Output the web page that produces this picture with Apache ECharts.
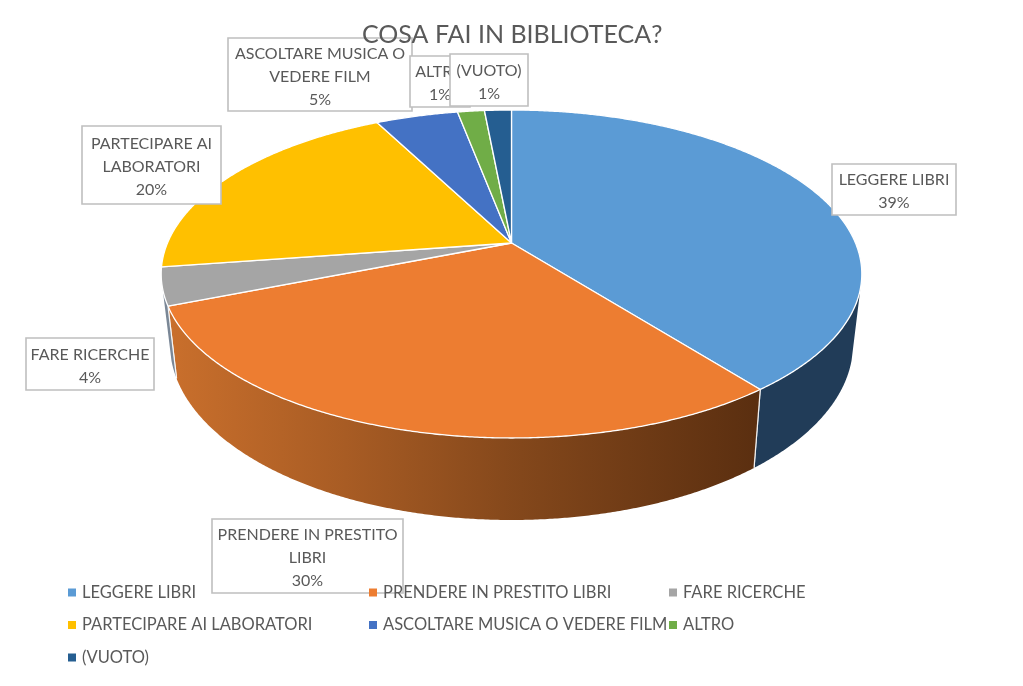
<!DOCTYPE html>
<html><head><meta charset="utf-8">
<style>html,body{margin:0;padding:0;background:#fff}#c{width:1023px;height:686px}</style>
<script src="https://cdn.jsdelivr.net/npm/echarts@6/dist/echarts.min.js"></script></head>
<body><div id="c"></div>
<script>
const titleText = 'COSA FAI IN BIBLIOTECA?';
const categories = ['LEGGERE LIBRI','PRENDERE IN PRESTITO LIBRI','FARE RICERCHE','PARTECIPARE AI LABORATORI','ASCOLTARE MUSICA O VEDERE FILM','ALTRO','(VUOTO)'];
const values = [39.45,29.5,3.7,19.8,4.57,1.49,1.49];
const labelLines = ['LEGGERE LIBRI','PRENDERE IN PRESTITO\nLIBRI','FARE RICERCHE','PARTECIPARE AI\nLABORATORI','ASCOLTARE MUSICA O\nVEDERE FILM','ALTRO','(VUOTO)'];
const colors = ['#5b9bd5','#ed7d31','#a5a5a5','#ffc000','#4472c4','#70ad47','#255e91'];

// layout only
const wallColors = ['#213c58',null,'#7a8796','#997300','#294576','#43682b','#163856'];
const labelBoxes = [[832,164,124,51],[212,519,191,74],[26,338,128,52],[82,126,139,78],[228,38,184,73],[410,56,60,51],[450,54,78,52]];
const legendCols = [{left:68,names:[0,3,6]},{left:369,names:[1,4]},{left:669,names:[2,5]}];

const total = values.reduce((a,b)=>a+b,0);
const starts = []; values.reduce((a,v,i)=>{starts[i]=a;return a+v;},0);
const CX=511.5,AY=243,P=112.2,B=-0.189,K=344;
function rimTop(t){ // perspective projection of a disk point at angle t (clockwise from 12 o'clock)
  const x=Math.sin(t),y=-Math.cos(t),d=1+B*y;
  return [CX+K*x/d,(P*y+AY)/d];
}
function rimLow(p){return [CX+(p[0]-CX)*0.975,p[1]+70+12*(p[1]-274)/164];}
const VIS0=106*Math.PI/180,VIS1=254*Math.PI/180;
function arc(a,b){const n=Math.max(2,Math.ceil((b-a)/0.006));const r=[];for(let i=0;i<=n;i++)r.push(a+(b-a)*i/n);return r;}
function sliceRender(i){
  return function(){
    const a=starts[i]/total*2*Math.PI,b=(starts[i]+values[i])/total*2*Math.PI;
    const kids=[];
    const va=Math.max(a,VIS0),vb=Math.min(b,VIS1);
    if(vb>va){
      const ts=arc(va,vb),up=ts.map(rimTop),dn=up.map(rimLow).reverse();
      const fill=wallColors[i]||{type:'linear',x:170,y:0,x2:755,y2:0,global:true,colorStops:[
        {offset:0,color:'#c96f2c'},{offset:.3,color:'#a85c24'},{offset:.6,color:'#83471b'},{offset:1,color:'#5b2f10'}]};
      kids.push({type:'polygon',shape:{points:up.concat(dn)},style:{fill:fill}});
      [a,b].forEach(t=>{ if(t>=VIS0&&t<=VIS1){const p=rimTop(t),q=rimLow(p);
        kids.push({type:'line',shape:{x1:p[0],y1:p[1],x2:q[0],y2:q[1]},style:{stroke:'#fff',lineWidth:1.2,opacity:.85}});}});
    }
    const pts=[[CX,AY]].concat(arc(a,b).map(rimTop));
    kids.push({type:'polygon',z2:5,shape:{points:pts},style:{fill:colors[i],stroke:'#fff',lineWidth:1.3,lineJoin:'round'}});
    return {type:'group',children:kids};
  };
}
function labelRender(params){
  const i=params.dataIndex,bx=labelBoxes[i];
  const pct=Math.round(values[i]/total*100)+'%';
  return {type:'group',children:[
    {type:'rect',z2:i*2,shape:{x:bx[0],y:bx[1],width:bx[2],height:bx[3]},style:{fill:'#fff',stroke:'#bfbfbf',lineWidth:1.6}},
    {type:'text',z2:i*2+1,style:{text:labelLines[i]+'\n'+pct,x:bx[0]+bx[2]/2,y:bx[1]+bx[3]/2+2,align:'center',verticalAlign:'middle',
      font:'16px Lato',lineHeight:23,fill:'#595959'}}
  ]};
}
const series = categories.map((name,i)=>({type:'custom',name:name,coordinateSystem:'none',silent:true,z:2+i*0.01,
  itemStyle:{color:colors[i]},data:[values[i]],renderItem:sliceRender(i)}));
series.push({type:'custom',name:'labels',coordinateSystem:'none',silent:true,z:3,data:values.map(v=>v),renderItem:labelRender});

const chart = echarts.init(document.getElementById('c'),null,{renderer:'canvas'});
chart.setOption({
  animation:false,backgroundColor:'#fff',
  title:{text:titleText,left:362,top:22,padding:0,z:6,textStyle:{fontFamily:'Lato',fontSize:25,fontWeight:'normal',color:'#595959'}},
  legend:legendCols.map(c=>({orient:'vertical',left:c.left,top:582.5,padding:0,itemGap:12.5,itemWidth:8,itemHeight:8,icon:'rect',z:6,
    selectedMode:false,data:c.names.map(i=>categories[i]),textStyle:{fontFamily:'Lato',fontSize:16.5,color:'#595959',padding:[0,0,0,1],lineHeight:20}})),
  series:series
});
</script></body></html>
